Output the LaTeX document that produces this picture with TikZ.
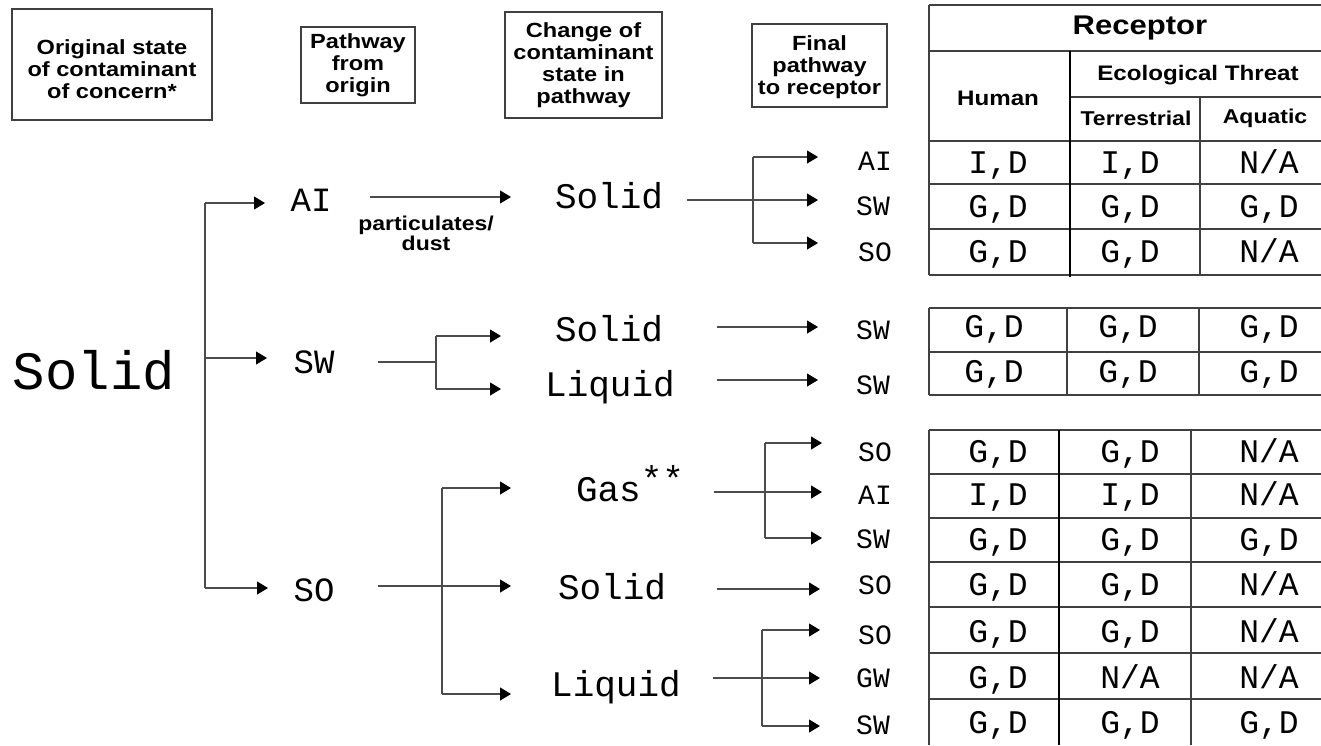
\documentclass[tikz,border=0pt]{standalone}
\usepackage{fontspec}
\setmainfont{Liberation Sans}
\newfontfamily\mono{Liberation Mono}
\newfontfamily\hf[FakeStretch=1.15]{Liberation Sans}
\usetikzlibrary{arrows.meta}
\begin{document}
\begin{tikzpicture}[x=1pt,y=-1pt,
  ln/.style={draw=black!70,line width=1.1pt},
  arr/.style={ln,-{Triangle[length=11pt,width=13pt,color=black]}},
  tl/.style={draw=black!75,line width=1.3pt},
  tk/.style={draw=black,line width=1.8pt},
  hbox/.style={draw=black!75,line width=1.2pt,inner sep=0pt},
  htext/.style={align=center,inner sep=0pt,font=\hf\bfseries\fontsize{20.5}{22}\selectfont},
  hd/.style={font=\hf\bfseries\fontsize{21}{21}\selectfont,inner sep=0pt},
  big/.style={font=\mono\fontsize{54}{54}\selectfont,inner sep=0pt,text height=35.6pt,text depth=0pt},
  st/.style={font=\mono\fontsize{36}{36}\selectfont,inner sep=0pt,text height=23.8pt,text depth=0pt},
  pl/.style={font=\mono\fontsize{34}{34}\selectfont,inner sep=0pt,text height=22.4pt,text depth=0pt},
  fl/.style={font=\mono\fontsize{28}{28}\selectfont,inner sep=0pt,text height=18.5pt,text depth=0pt},
  cl/.style={font=\mono\fontsize{33}{33}\selectfont,inner sep=0pt,text height=21.8pt,text depth=0pt}]
\useasboundingbox (0,0) rectangle (1321,745);
% header boxes
\node[hbox,minimum width=200pt,minimum height=111pt,
  label={[htext,yshift=-5pt]center:Original state\\of contaminant\\of concern*}] (h1) at (112,64.5) {};
\node[hbox,minimum width=114pt,minimum height=76pt,
  label={[htext]center:Pathway\\from\\origin}] (h2) at (358,65) {};
\node[hbox,minimum width=157pt,minimum height=106pt,
  label={[htext]center:Change of\\contaminant\\state in\\pathway}] (h3) at (583.5,65) {};
\node[hbox,minimum width=135pt,minimum height=83pt,
  label={[htext,yshift=-2pt]center:Final\\pathway\\to receptor}] (h4) at (819.5,65.5) {};
% origin
\node[big] (solid) at (94,372) {Solid};
% pathways from origin
\node[pl] (pAI) at (311,200) {AI};
\node[pl] (pSW) at (314,362) {SW};
\node[pl] (pSO) at (314,590) {SO};
% changed states
\node[st] (sA) at (609,197) {Solid};
\node[st] (sB) at (609,330) {Solid};
\node[st] (lB) at (610,385) {Liquid};
\node[st] (gC) at (630,490) {Gas\raisebox{0.3em}{**}};
\node[st] (sC) at (612,588) {Solid};
\node[st] (lC) at (616,685) {Liquid};
\node[font=\hf\bfseries\fontsize{20}{20}\selectfont,align=center,inner sep=0pt] (pd) at (426,233) {particulates/\\dust};
% final pathways
\node[fl] (f1) at (875,161) {AI};
\node[fl] (f2) at (873,206) {SW};
\node[fl] (f3) at (875,252) {SO};
\node[fl] (f4) at (873,330) {SW};
\node[fl] (f5) at (873,385) {SW};
\node[fl] (f6) at (875,452) {SO};
\node[fl] (f7) at (875,495) {AI};
\node[fl] (f8) at (873,539) {SW};
\node[fl] (f9) at (875,585) {SO};
\node[fl] (f10) at (875,635) {SO};
\node[fl] (f11) at (873,678) {GW};
\node[fl] (f12) at (873,725) {SW};
% connector points
\coordinate (m1) at (205,203);
\coordinate (m2) at (205,358);
\coordinate (m3) at (205,588);
\coordinate (m1t) at (265,203);
\coordinate (m2t) at (267,358);
\coordinate (m3t) at (268,588);
\draw[ln] (m1) -- (m3);
\draw[arr] (m1) -- (m1t);
\draw[arr] (m2) -- (m2t);
\draw[arr] (m3) -- (m3t);
% AI branch
\coordinate (a1) at (370,197); \coordinate (a2) at (511,197);
\draw[arr] (a1) -- (a2);
\coordinate (b0) at (687,200); \coordinate (b1) at (753,157); \coordinate (b2) at (753,243);
\coordinate (bt0) at (818,200); \coordinate (bt1) at (818,157); \coordinate (bt2) at (818,243);
\draw[arr] (b0) -- (bt0);
\draw[ln] (b1) -- (b2);
\draw[arr] (b1) -- (bt1);
\draw[arr] (b2) -- (bt2);
% SW branch
\coordinate (c0) at (378,362); \coordinate (c1) at (436,362);
\coordinate (c2) at (436,336); \coordinate (c3) at (436,389);
\coordinate (ct2) at (501,336); \coordinate (ct3) at (501,389);
\draw[ln] (c0) -- (c1);
\draw[ln] (c2) -- (c3);
\draw[arr] (c2) -- (ct2);
\draw[arr] (c3) -- (ct3);
\coordinate (d1) at (717,327); \coordinate (dt1) at (818,327);
\coordinate (d2) at (717,380); \coordinate (dt2) at (818,380);
\draw[arr] (d1) -- (dt1);
\draw[arr] (d2) -- (dt2);
% SO branch
\coordinate (e0) at (378,586); \coordinate (et0) at (511,586);
\coordinate (e1) at (442,488); \coordinate (e2) at (442,694);
\coordinate (et1) at (511,488); \coordinate (et2) at (511,694);
\draw[arr] (e0) -- (et0);
\draw[ln] (e1) -- (e2);
\draw[arr] (e1) -- (et1);
\draw[arr] (e2) -- (et2);
% Gas
\coordinate (g0) at (714,492); \coordinate (gt0) at (822,492);
\coordinate (g1) at (765,443); \coordinate (g2) at (765,538);
\coordinate (gt1) at (822,443); \coordinate (gt2) at (822,538);
\draw[arr] (g0) -- (gt0);
\draw[ln] (g1) -- (g2);
\draw[arr] (g1) -- (gt1);
\draw[arr] (g2) -- (gt2);
% Solid C
\coordinate (k0) at (717,589); \coordinate (kt0) at (820,589);
\draw[arr] (k0) -- (kt0);
% Liquid C
\coordinate (l0) at (713,678); \coordinate (lt0) at (820,678);
\coordinate (l1) at (762,630); \coordinate (l2) at (762,726);
\coordinate (lt1) at (820,630); \coordinate (lt2) at (820,726);
\draw[arr] (l0) -- (lt0);
\draw[ln] (l1) -- (l2);
\draw[arr] (l1) -- (lt1);
\draw[arr] (l2) -- (lt2);
% table section 1
\foreach \y in {5,51,141,184,229,275} \draw[tl] (929,\y) -- (1321,\y);
\draw[tl] (1070,97) -- (1321,97);
\draw[tl] (929,5) -- (929,275);
\draw[tk] (1070,51) -- (1070,277);
\draw[tl] (1200,97) -- (1200,275);
\node[font=\hf\bfseries\fontsize{27}{27}\selectfont,inner sep=0pt] (rec) at (1140,28) {Receptor};
\node[hd] (hum) at (998,98) {Human};
\node[hd] (eco) at (1198,75) {Ecological Threat};
\node[font=\hf\bfseries\fontsize{20}{20}\selectfont,inner sep=0pt] (ter) at (1136,118) {Terrestrial};
\node[font=\hf\bfseries\fontsize{20}{20}\selectfont,inner sep=0pt] (aqu) at (1265,118) {Aquatic};
\node[cl] at (998,163) {I,D};  \node[cl] at (1130,163) {I,D};  \node[cl] at (1269,163) {N/A};
\node[cl] at (998,207) {G,D};  \node[cl] at (1130,207) {G,D};  \node[cl] at (1269,207) {G,D};
\node[cl] at (998,252) {G,D};  \node[cl] at (1130,252) {G,D};  \node[cl] at (1269,252) {N/A};
% table section 2
\foreach \y in {308,352,395} \draw[tl] (929,\y) -- (1321,\y);
\draw[tl] (929,308) -- (929,395);
\draw[tl] (1067,308) -- (1067,395);
\draw[tl] (1199,308) -- (1199,395);
\node[cl] at (994,327) {G,D};  \node[cl] at (1128,327) {G,D};  \node[cl] at (1269,327) {G,D};
\node[cl] at (994,372) {G,D};  \node[cl] at (1128,372) {G,D};  \node[cl] at (1269,372) {G,D};
% table section 3
\foreach \y in {430,474,518,562,607,653,699} \draw[tl] (929,\y) -- (1321,\y);
\draw[tl] (929,430) -- (929,745);
\draw[tk] (1059,430) -- (1059,745);
\draw[tl] (1191,430) -- (1191,745);
\node[cl] at (998,452) {G,D};  \node[cl] at (1130,452) {G,D};  \node[cl] at (1269,452) {N/A};
\node[cl] at (998,495) {I,D};  \node[cl] at (1130,495) {I,D};  \node[cl] at (1269,495) {N/A};
\node[cl] at (998,540) {G,D};  \node[cl] at (1130,540) {G,D};  \node[cl] at (1269,540) {G,D};
\node[cl] at (998,585) {G,D};  \node[cl] at (1130,585) {G,D};  \node[cl] at (1269,585) {N/A};
\node[cl] at (998,632) {G,D};  \node[cl] at (1130,632) {G,D};  \node[cl] at (1269,632) {N/A};
\node[cl] at (998,678) {G,D};  \node[cl] at (1130,678) {N/A};  \node[cl] at (1269,678) {N/A};
\node[cl] at (998,723) {G,D};  \node[cl] at (1130,723) {G,D};  \node[cl] at (1269,723) {G,D};
\end{tikzpicture}
\end{document}
